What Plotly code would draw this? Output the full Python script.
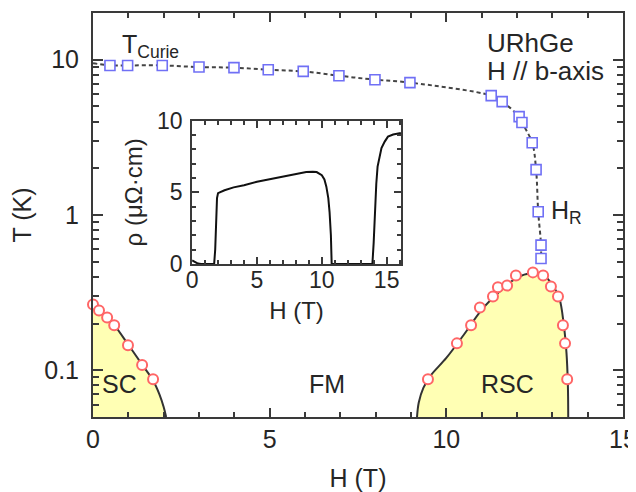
import plotly.graph_objects as go
import numpy as np

# ---- Data ----
# Curie temperature (blue squares)
tc_H = [0.48, 0.98, 1.96, 3.0, 3.99, 4.96, 5.95, 6.96, 7.98, 8.97, 11.27, 11.58, 12.06, 12.14, 12.43, 12.54, 12.60, 12.68, 12.68]
tc_T = [9.19, 9.19, 9.19, 8.97, 8.89, 8.62, 8.41, 7.89, 7.44, 7.12, 5.87, 5.37, 4.30, 3.94, 2.92, 1.96, 1.05, 0.64, 0.525]
# guide line through Curie points
tcl_H = [0.0] + tc_H
tcl_T = [9.5] + tc_T

# Superconducting points (red circles)
sc_H = [0.0, 0.17, 0.40, 0.60, 0.99, 1.39, 1.70]
sc_T = [0.265, 0.243, 0.219, 0.195, 0.145, 0.108, 0.0875]
rsc_H = [9.48, 10.30, 10.70, 10.95, 11.32, 11.46, 11.72, 11.97, 12.45, 12.74, 12.96, 13.16, 13.30, 13.36, 13.42]
rsc_T = [0.0875, 0.149, 0.195, 0.254, 0.299, 0.342, 0.351, 0.408, 0.427, 0.408, 0.346, 0.299, 0.195, 0.149, 0.0875]

# phase boundaries
scb_H = [0.0, 0.17, 0.40, 0.60, 1.0, 1.40, 1.70, 1.88, 2.0, 2.07]
scb_T = [0.268, 0.245, 0.220, 0.196, 0.146, 0.108, 0.086, 0.070, 0.058, 0.05]
rscb_H = [9.17, 9.22, 9.35, 9.55, 10.0, 10.5, 11.0, 11.5, 12.0, 12.4, 12.75, 13.0, 13.2, 13.32, 13.40, 13.44, 13.45]
rscb_T = [0.05, 0.062, 0.077, 0.092, 0.120, 0.170, 0.245, 0.320, 0.395, 0.422, 0.410, 0.355, 0.290, 0.200, 0.130, 0.080, 0.05]

# Inset: resistivity vs field
rho_H = [0.0, 0.2, 0.45, 0.7, 1.7, 1.78, 1.85, 1.92, 2.0, 2.5, 3.2, 4.0, 5.0, 6.0, 7.0, 8.0, 8.8, 9.3, 9.6, 10.0, 10.2, 10.35, 10.5, 10.6, 10.7, 10.76, 11.5, 12.5, 13.9, 14.0, 14.1, 14.2, 14.3, 14.45, 14.6, 14.85, 15.1, 15.5, 15.9, 16.1]
rho_V = [0.25, 0.15, 0.02, 0.0, 0.0, 1.0, 3.0, 4.6, 4.95, 5.15, 5.35, 5.5, 5.74, 5.92, 6.12, 6.28, 6.42, 6.45, 6.42, 6.2, 5.9, 5.4, 4.6, 3.6, 2.0, 0.0, 0.0, 0.0, 0.0, 1.5, 4.0, 5.6, 6.8, 7.6, 8.1, 8.55, 8.9, 9.05, 9.15, 9.15]

# tick labels
x_ticks = [0, 5, 10, 15]
y_ticks = [0.1, 1, 10]
y_ticktext = ["0.1", "1", "10"]
inset_x_ticks = [0, 5, 10, 15]
inset_y_ticks = [0, 5, 10]

FONT = "Liberation Sans, Arial, Helvetica, sans-serif"
AX = "#3a3a3a"
TXT = "#262626"

fig = go.Figure()

# SC region fill
fig.add_trace(go.Scatter(x=scb_H + [0.0], y=scb_T + [0.05], mode="lines", fill="toself",
                         fillcolor="#ffffb4", line=dict(width=0), hoverinfo="skip"))
fig.add_trace(go.Scatter(x=scb_H, y=scb_T, mode="lines", line=dict(color="#333333", width=2, shape="spline"),
                         hoverinfo="skip"))
# RSC region fill
fig.add_trace(go.Scatter(x=rscb_H, y=rscb_T, mode="lines", fill="toself",
                         fillcolor="#ffffb4", line=dict(color="#333333", width=2, shape="spline")))

# Curie guide line
fig.add_trace(go.Scatter(x=tcl_H, y=tcl_T, mode="lines",
                         line=dict(color="#444444", width=2, dash="4px,3px", shape="spline")))
# Curie squares
fig.add_trace(go.Scatter(x=tc_H, y=tc_T, mode="markers",
                         marker=dict(symbol="square", size=10, color="white",
                                     line=dict(color="#7070f5", width=1.6))))
# SC circles
fig.add_trace(go.Scatter(x=sc_H, y=sc_T, mode="markers", cliponaxis=False,
                         marker=dict(symbol="circle", size=10, color="white",
                                     line=dict(color="#ff6666", width=2))))
fig.add_trace(go.Scatter(x=rsc_H, y=rsc_T, mode="markers",
                         marker=dict(symbol="circle", size=10, color="white",
                                     line=dict(color="#ff6666", width=2))))

# inset
fig.add_trace(go.Scatter(x=rho_H, y=rho_V, mode="lines", xaxis="x2", yaxis="y2",
                         line=dict(color="#111111", width=2)))

axis_common = dict(showline=True, linecolor=AX, linewidth=2, mirror="ticks", ticks="inside",
                   tickcolor=AX, tickwidth=1.5, showgrid=False, zeroline=False, automargin=False,
                   ticklabeloverflow="allow",
                   tickfont=dict(family=FONT, size=25, color=TXT))

# page has an 8px body margin: figure spans 628x484 so it ends at the window edge
fig.update_layout(
    width=628, height=484,
    margin=dict(l=85, r=13, t=5, b=75, autoexpand=False),
    plot_bgcolor="white", paper_bgcolor="white",
    showlegend=False,
    font=dict(family=FONT, size=25, color=TXT),
    xaxis=dict(range=[0, 15], tickvals=x_ticks, ticklen=9,
               minor=dict(tickvals=list(range(16)), ticks="inside", ticklen=5, tickcolor=AX, tickwidth=1.5),
               title=dict(text="H (T)", font=dict(family=FONT, size=25, color=TXT), standoff=18),
               ticklabelstandoff=-1,
               **axis_common),
    yaxis=dict(type="log", range=[np.log10(0.05), np.log10(20)], tickvals=y_ticks, ticktext=y_ticktext,
               ticklen=10,
               minor=dict(tickvals=[0.06, 0.07, 0.08, 0.09, 0.2, 0.3, 0.4, 0.5, 0.6, 0.7, 0.8, 0.9,
                                    2, 3, 4, 5, 6, 7, 8, 9, 20],
                          ticks="inside", ticklen=6, tickcolor=AX, tickwidth=1.5),
               title=dict(text="T (K)", font=dict(family=FONT, size=25, color=TXT), standoff=10),
               ticklabelstandoff=7,
               **axis_common),
    xaxis2=dict(domain=[0.187, 0.581], anchor="y2", range=[0, 16.1], tickvals=inset_x_ticks, ticklen=7,
                minor=dict(tickvals=list(range(17)), ticks="inside", ticklen=4, tickcolor=AX, tickwidth=1.5),
                title=dict(text="H (T)", font=dict(family=FONT, size=24, color=TXT), standoff=10),
                ticklabelstandoff=-5,
                **{**axis_common, "tickfont": dict(family=FONT, size=23, color=TXT)}),
    yaxis2=dict(domain=[0.379, 0.733], anchor="x2", range=[0, 10], tickvals=inset_y_ticks, ticklen=7,
                minor=dict(tickvals=list(range(11)), ticks="inside", ticklen=4, tickcolor=AX, tickwidth=1.5),
                title=dict(text="ρ (μΩ·cm)", font=dict(family=FONT, size=24, color=TXT), standoff=8),
                ticklabelstandoff=3,
                **{**axis_common, "tickfont": dict(family=FONT, size=23, color=TXT)}),
)

ann = dict(showarrow=False, font=dict(family=FONT, size=25, color=TXT), xanchor="left", yanchor="middle")
ann26 = {**ann, "font": dict(family=FONT, size=26, color=TXT)}
fig.add_annotation(x=0.75, y=np.log10(12.3), text="T<sub>Curie</sub>", **ann)
fig.add_annotation(x=11.1, y=np.log10(12.9), text="URhGe", **ann26)
fig.add_annotation(x=11.1, y=np.log10(8.5), text="H // b-axis", **ann26)
fig.add_annotation(x=12.9, y=np.log10(1.05), text="H<sub>R</sub>", **ann)
ann_c = {**ann, "xanchor": "center"}
fig.add_annotation(x=0.76, y=np.log10(0.081), text="SC", **ann_c)
fig.add_annotation(x=6.62, y=np.log10(0.081), text="FM", **ann_c)
fig.add_annotation(x=11.72, y=np.log10(0.081), text="RSC", **ann_c)

fig.write_html("out.html")
